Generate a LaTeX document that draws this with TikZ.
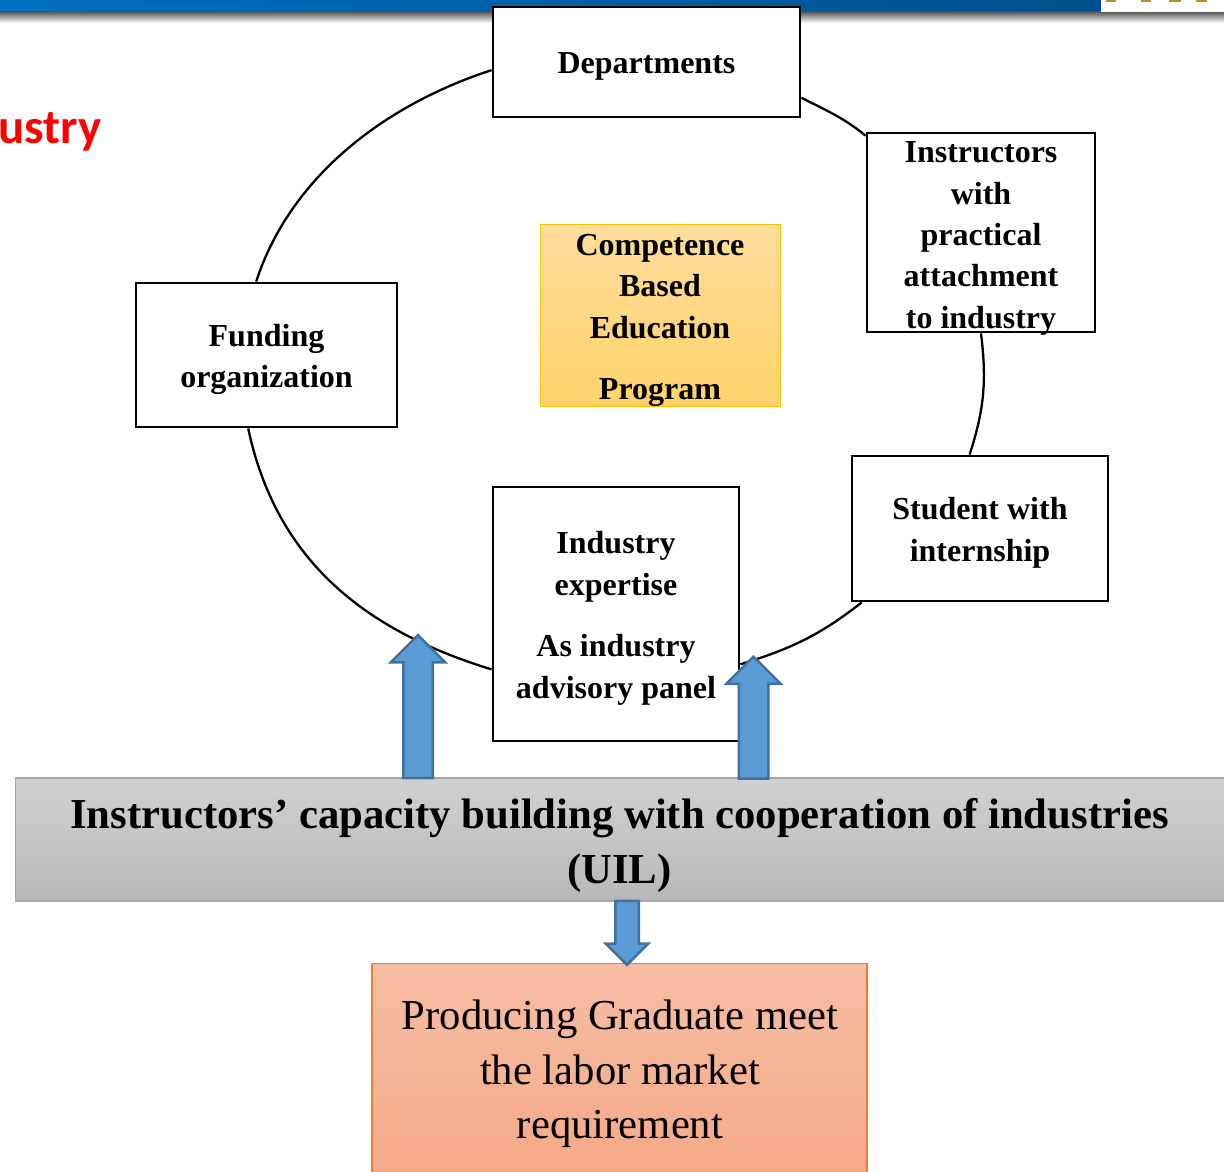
\documentclass[tikz,border=0pt]{standalone}
\usepackage{fontspec}
\setmainfont{Liberation Serif}
\newfontfamily\headfont{Carlito}
\usepackage{xcolor}
\usetikzlibrary{shapes.arrows}

\definecolor{boxblue}{HTML}{5B9BD5}
\definecolor{boxblueline}{HTML}{41719C}
\definecolor{bandleft}{HTML}{0070C0}
\definecolor{bandright}{HTML}{004F8C}
\definecolor{logogold}{HTML}{B8902A}
\definecolor{goldtop}{HTML}{FFDD9C}
\definecolor{goldbottom}{HTML}{FFD26A}
\definecolor{goldline}{HTML}{FFC000}
\definecolor{salmontop}{HTML}{F7BDA4}
\definecolor{salmonbottom}{HTML}{F4A683}
\definecolor{salmonline}{HTML}{ED7D31}

\newcommand{\linedrop}{\rule{0pt}{31pt}}

\tikzset{
    whitebox/.style={draw=black, fill=white, line width=2.8pt, align=center, inner sep=0pt,
        font=\fontsize{32}{41.4}\selectfont\bfseries},
    uparrow/.style={single arrow, draw=boxblueline, fill=boxblue, line width=2.5pt, inner sep=0pt, text width=27pt,
        minimum width=52pt, single arrow head extend=12.5pt, shape border rotate=90},
    ringline/.style={black, line width=2.3pt}
}

\begin{document}
\begin{tikzpicture}[x=1pt, y=-1pt]
        \clip (0,0) rectangle (1224,1171);

        % Draw the top band
        \shade[left color=bandleft, right color=bandright] (0,0) rectangle (1101,11);
        \shade[top color=black!70, bottom color=white] (0,11) rectangle (1224,23);
        \fill[white] (1101,0) rectangle (1224,12);
        \fill[logogold] (1106,0) rectangle (1116,2);
        \fill[logogold] (1141,0) rectangle (1151,2);
        \fill[logogold] (1169,0) rectangle (1181,2);
        \fill[logogold] (1196,0) rectangle (1207,2);
        \node (slidetitle) [anchor=base east, text=red, inner sep=0pt] at (101.5,143) {\headfont\fontsize{49}{49}\selectfont\bfseries ustry};

        % Draw the boxes
        \node (departments) [whitebox, minimum width=307pt, minimum height=110pt] at (646.5,62) {\rule{0pt}{30pt}Departments};
        \node (instructors) [whitebox, minimum width=228pt, minimum height=199pt] at (981,232.5) {};
        \node (instructorstext) [align=center, inner sep=0pt, font=\fontsize{32}{41.4}\selectfont\bfseries] at (981,238.5) {Instructors\\with\\practical\\attachment\\to industry};
        \node (student) [whitebox, minimum width=256pt, minimum height=145pt] at (980,528.5) {\linedrop Student with\\internship};
        \node (industry) [whitebox, minimum width=246pt, minimum height=254pt] at (616,614) {\linedrop Industry\\expertise\\[20pt]As industry\\advisory panel};
        \node (funding) [whitebox, minimum width=261pt, minimum height=144pt] at (266.5,355) {\linedrop Funding\\organization};

        \node (program) [draw=goldline, line width=1pt, top color=goldtop, bottom color=goldbottom,
            align=center, inner sep=0pt, minimum width=240pt, minimum height=181pt,
            font=\fontsize{32}{41.4}\selectfont\bfseries] at (660,315.5) {\linedrop Competence\\Based\\Education\\[20pt]Program};

        % Draw the ring from box to box
        \draw[ringline] (funding.98) to[out=72, in=198, looseness=0.9] (departments.183);
        \draw[ringline] (departments.347) to[out=-27, in=141] (instructors.140);
        \draw[ringline] (instructors.270) to[out=-83, in=72] (student.98);
        \draw[ringline] (student.212) to[out=218, in=17] (industry.338);
        \draw[ringline] (industry.204) to[out=163, in=282] (funding.256);

        % Draw the bottom boxes
        \node (capacity) [draw=black!35, line width=1.2pt, top color=black!18, bottom color=black!28, align=center, inner sep=0pt,
            minimum width=1240pt, minimum height=123pt, anchor=west] at (15,839.5) {};
        \node (capacitytext) [align=center, inner sep=0pt, font=\fontsize{42.7}{55}\selectfont\bfseries] at (619.5,845) {Instructors’ capacity building with cooperation of industries\\(UIL)};
        \node (graduate) [draw=salmonline, line width=1.2pt, top color=salmontop, bottom color=salmonbottom, align=center, inner sep=0pt,
            minimum width=495pt, minimum height=240pt, anchor=north] at (619.5,963) {};
        \node (graduatetext) [align=center, inner sep=0pt, font=\fontsize{42.7}{54.5}\selectfont] at (620,1074) {Producing Graduate meet\\the labor market\\requirement};

        % Draw the arrows
        \node (arrowleft) [uparrow, minimum height=143pt] at (418,714) {};
        \node (arrowright) [uparrow, minimum height=122pt] at (753.5,725) {};
        \node (arrowdown) [uparrow, text width=21pt, minimum width=40pt, single arrow head extend=9.5pt, shape border rotate=270, minimum height=64pt] at (627,927) {};

    \end{tikzpicture}
\end{document}
